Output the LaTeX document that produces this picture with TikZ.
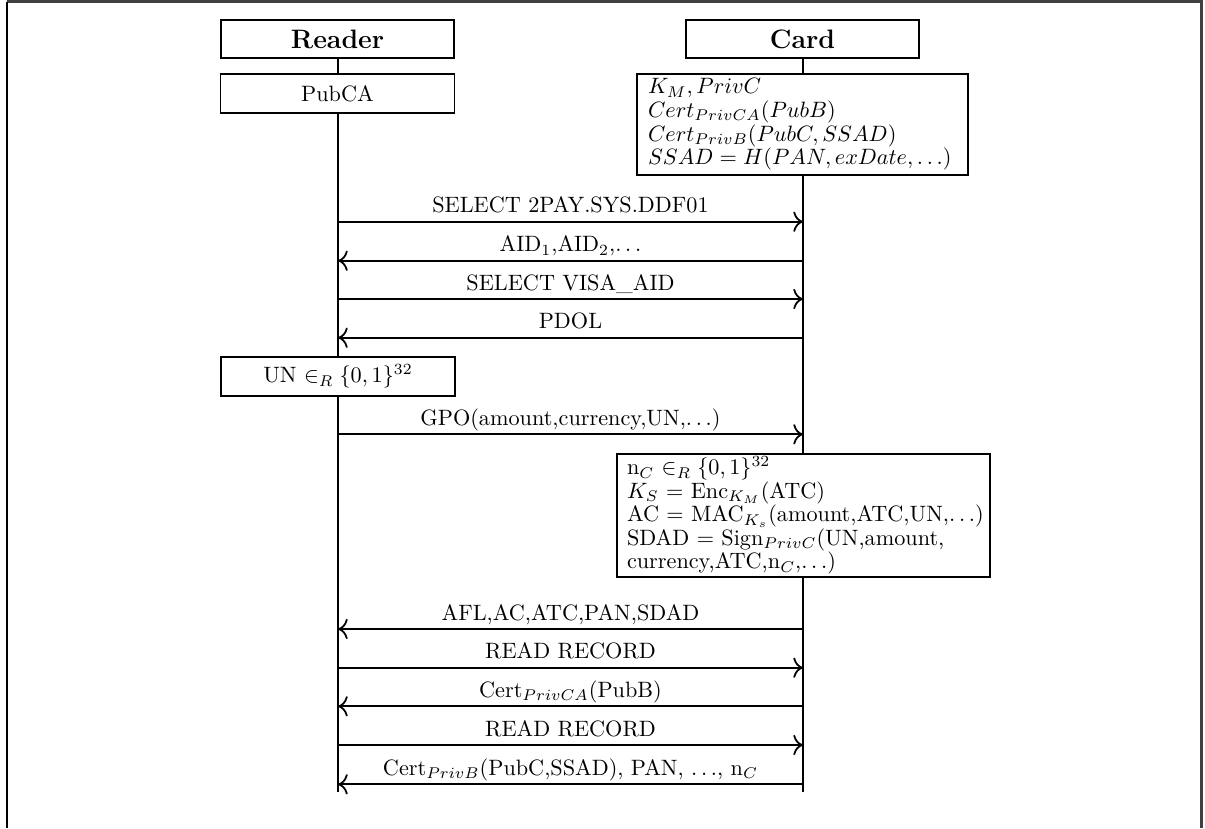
\documentclass[tikz,border=0pt]{standalone}
\usetikzlibrary{arrows.meta}
\newdimen\pxl
\pxl=0.45pt
\tikzset{
  actor/.style={draw, line width=0.8pt, fill=white, minimum width=233*\pxl, minimum height=38*\pxl, inner sep=0pt, font=\large\bfseries},
  stepbox/.style={draw, line width=0.8pt, fill=white, minimum width=234*\pxl, minimum height=39*\pxl, inner sep=0pt},
  notebox/.style={draw, line width=0.8pt, fill=white, align=left, inner ysep=0pt, font=\fontsize{10}{10.6}\selectfont},
  lifeline/.style={line width=0.8pt},
  msg/.style={line width=0.8pt, -{Computer Modern Rightarrow[scale=1.3]}},
  lbl/.style={anchor=base, yshift=9*\pxl, inner sep=0pt},
  frameline/.style={line width=1pt}
}
\begin{document}
\begin{tikzpicture}[x=\pxl, y=-\pxl]
\useasboundingbox (0,0) rectangle (1205,828);

% window frame
\draw[frameline, black!75] (7,1.5) -- (1201.5,1.5) -- (1201.5,828);
\draw[frameline, black] (7,1.5) -- (7,828);

% lifeline ends
\coordinate (rend) at (338,792);
\coordinate (cend) at (803,792);

% lifelines (drawn first, boxes cover them)
\draw[lifeline] (338,39) -- (rend);
\draw[lifeline] (803,39) -- (cend);

% participants
\node[actor] (reader) at (337.5,39) {Reader};
\node[actor] (card) at (802.5,39) {Card};

% reader state
\node[stepbox] (pubca) at (337.5,93.5) {PubCA};

% card state
\node[notebox, minimum width=331*\pxl, minimum height=101*\pxl, text width=309*\pxl, inner xsep=11*\pxl] (cardinfo) at (802.5,124.5)
  {$K_M, PrivC$\\
   $Cert_{PrivCA}(PubB)$\\
   $Cert_{PrivB}(PubC, SSAD)$\\
   $SSAD = H(PAN, exDate, \ldots)$};

% message rows
\foreach \n/\y in {1/221.7, 2/260.7, 3/299, 4/337.7, 5/434.3, 6/629, 7/667.7, 8/706.3, 9/745, 10/784.3}{
  \coordinate (r\n) at (338,\y);
  \coordinate (c\n) at (803,\y);
}

\draw[msg] (r1) -- node[lbl]{SELECT 2PAY.SYS.DDF01} (c1);
\draw[msg] (c2) -- node[lbl]{AID$_1$,AID$_2$,$\ldots$} (r2);
\draw[msg] (r3) -- node[lbl]{SELECT VISA\_AID} (c3);
\draw[msg] (c4) -- node[lbl]{PDOL} (r4);

\node[stepbox] (nonce) at (338,376.5) {UN $\in_R \{0,1\}^{32}$};

\draw[msg] (r5) -- node[lbl]{GPO(amount,currency,UN,$\ldots$)} (c5);

\node[notebox, minimum width=373*\pxl, minimum height=123*\pxl, text width=353*\pxl, inner xsep=10*\pxl] (cardcalc) at (803.5,515.5)
  {\mbox{n$_C$ $\in_R \{0,1\}^{32}$}\\
   \mbox{$K_S$ = Enc$_{K_M}$(ATC)}\\
   \mbox{AC = MAC$_{K_s}$(amount,ATC,UN,$\ldots$)}\\
   \mbox{SDAD = Sign$_{PrivC}$(UN,amount,}\\
   \mbox{currency,ATC,n$_C$,$\ldots$)}};

\draw[msg] (c6) -- node[lbl]{AFL,AC,ATC,PAN,SDAD} (r6);
\draw[msg] (r7) -- node[lbl]{READ RECORD} (c7);
\draw[msg] (c8) -- node[lbl]{Cert$_{PrivCA}$(PubB)} (r8);
\draw[msg] (r9) -- node[lbl]{READ RECORD} (c9);
\draw[msg] (c10) -- node[lbl]{Cert$_{PrivB}$(PubC,SSAD), PAN, $\ldots$, n$_C$} (r10);
\end{tikzpicture}
\end{document}
